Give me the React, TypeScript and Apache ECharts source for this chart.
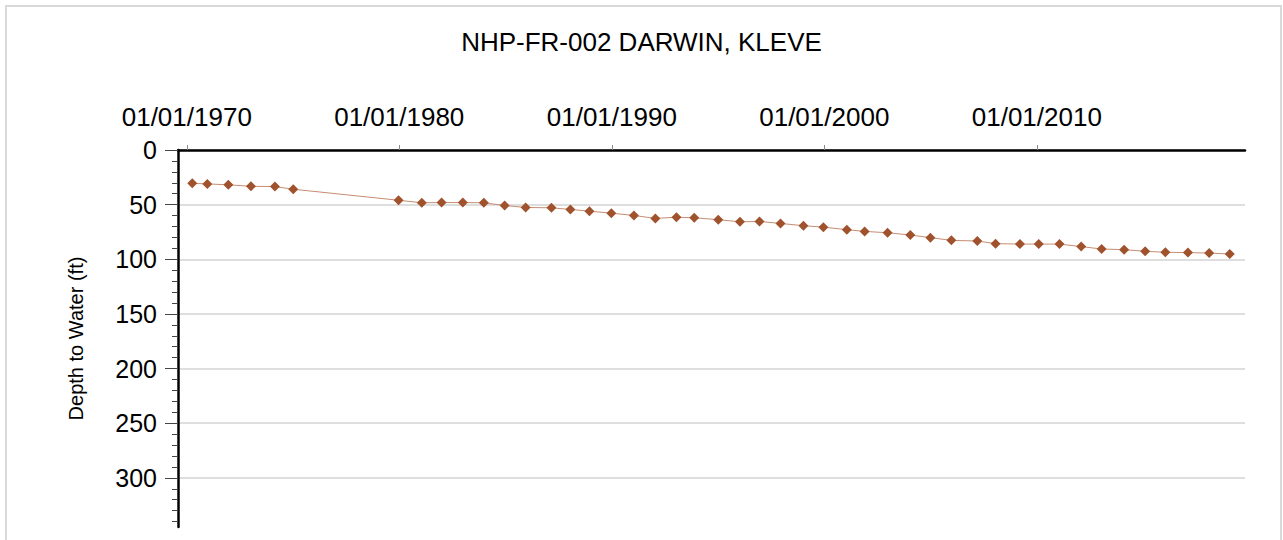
import React, { useEffect, useRef } from "react";
import * as echarts from "echarts";

const TITLE = "NHP-FR-002 DARWIN, KLEVE";
const Y_NAME = "Depth to Water (ft)";

const measureDates = [
  "1970-04-05", "1970-12-20", "1971-12-16", "1973-01-08", "1974-02-24", "1975-01-05",
  "1979-12-20", "1981-01-22", "1981-12-28", "1982-12-28", "1983-12-24", "1984-12-16",
  "1985-12-12", "1987-02-28", "1988-01-20", "1988-12-13", "1989-12-24", "1991-01-16",
  "1992-01-20", "1993-01-16", "1993-11-18", "1995-01-05", "1996-01-12", "1996-12-13",
  "1997-12-09", "1999-01-08", "1999-12-16", "2001-01-22", "2001-11-24", "2002-12-24",
  "2004-01-19", "2004-12-28", "2005-12-24", "2007-03-15", "2008-01-23", "2009-03-17",
  "2010-02-03", "2011-01-26", "2012-02-03", "2013-01-19", "2014-02-10", "2015-02-06",
  "2016-01-19", "2017-02-10", "2018-02-10", "2019-01-30",
];

const depthToWater = [
  30.5, 31.0, 31.9, 33.2, 33.5, 35.9,
  46.0, 48.3, 48.1, 48.1, 48.3, 50.8,
  52.6, 52.9, 54.4, 56.0, 57.8, 59.9,
  62.6, 61.5, 62.0, 63.8, 65.7, 65.4,
  67.2, 69.3, 70.6, 72.9, 74.5, 75.7,
  77.8, 80.2, 82.7, 83.3, 85.7, 86.1,
  86.1, 86.1, 88.4, 90.6, 91.2, 92.7,
  93.6, 93.9, 94.3, 95.2,
];

const xTickDates = ["1970-01-01", "1980-01-01", "1990-01-01", "2000-01-01", "2010-01-01"];
const X_MIN_DATE = "1969-08-03";
const X_MAX_DATE = "2019-10-19";

const yMajorTicks = [0, 50, 100, 150, 200, 250, 300];
const yMinorTicks = [10, 20, 30, 40, 60, 70, 80, 90, 110, 120, 130, 140, 160, 170, 180, 190, 210, 220, 230, 240, 260, 270, 280, 290, 310, 320, 330, 340];
const Y_MIN = 0;
const Y_MAX = 345;

const FONT = "Arial, 'Liberation Sans', sans-serif";

function utc(s: string): number {
  const [y, m, d] = s.split("-").map(Number);
  return Date.UTC(y, m - 1, d);
}

function fmtDate(v: number): string {
  const d = new Date(v);
  const p = (n: number) => (n < 10 ? "0" + n : "" + n);
  return `${p(d.getUTCMonth() + 1)}/${p(d.getUTCDate())}/${d.getUTCFullYear()}`;
}

export default function App() {
  const ref = useRef<HTMLDivElement>(null);

  useEffect(() => {
    if (!ref.current) return;
    const chart = echarts.init(ref.current, undefined, { renderer: "svg" });
    const data = measureDates.map((d, i) => [utc(d), depthToWater[i]]);
    const xTicks = xTickDates.map(utc);

    chart.setOption({
      animation: false,
      backgroundColor: "#ffffff",
      title: {
        text: TITLE,
        left: "center",
        top: 24,
        textStyle: { fontSize: 26, fontWeight: "normal", color: "#000", fontFamily: FONT },
      },
      graphic: [
        {
          type: "rect",
          silent: true,
          z: -10,
          shape: { x: 6, y: 6, width: 1275, height: 600 },
          style: { fill: "none", stroke: "#d9d9d9", lineWidth: 2 },
        },
      ],
      grid: { left: 178, right: 38, top: 150, bottom: 13, containLabel: false, outerBoundsMode: "none" },
      xAxis: {
        type: "value",
        position: "top",
        min: utc(X_MIN_DATE),
        max: utc(X_MAX_DATE),
        axisLine: { show: true, onZero: false, lineStyle: { color: "#000", width: 2.5 } },
        axisTick: { show: true, length: 5, customValues: xTicks, lineStyle: { color: "#888", width: 1 } },
        axisLabel: {
          show: true,
          customValues: xTicks,
          formatter: (v: number) => fmtDate(v),
          fontSize: 26,
          color: "#000",
          fontFamily: FONT,
          margin: 20,
        },
        splitLine: { show: false },
      },
      yAxis: [
        {
          type: "value",
          position: "left",
          inverse: true,
          min: Y_MIN,
          max: Y_MAX,
          name: Y_NAME,
          nameLocation: "middle",
          nameGap: 92,
          nameTextStyle: { fontSize: 20, color: "#000", fontFamily: FONT },
          axisLine: { show: true, onZero: false, lineStyle: { color: "#000", width: 2.5 } },
          axisTick: { show: true, length: 13, customValues: yMajorTicks, lineStyle: { color: "#444", width: 1 } },
          axisLabel: {
            show: true,
            customValues: yMajorTicks,
            fontSize: 25,
            color: "#000",
            fontFamily: FONT,
            margin: 21,
          },
          splitLine: { show: true, lineStyle: { color: "#dedede", width: 2 } },
        },
        {
          type: "value",
          position: "left",
          inverse: true,
          min: Y_MIN,
          max: Y_MAX,
          axisLine: { show: false, onZero: false },
          axisTick: { show: true, length: 6, customValues: yMinorTicks, lineStyle: { color: "#444", width: 1 } },
          axisLabel: { show: false },
          splitLine: { show: false },
        },
      ],
      series: [
        {
          type: "line",
          yAxisIndex: 0,
          data,
          symbol: "diamond",
          symbolSize: 10,
          itemStyle: { color: "#a0522d" },
          lineStyle: { color: "#c68d72", width: 1 },
          clip: false,
        },
      ],
    });

    return () => chart.dispose();
  }, []);

  return (
    <div
      ref={ref}
      style={{ position: "absolute", left: 0, top: 0, width: 1283, height: 540 }}
    />
  );
}
